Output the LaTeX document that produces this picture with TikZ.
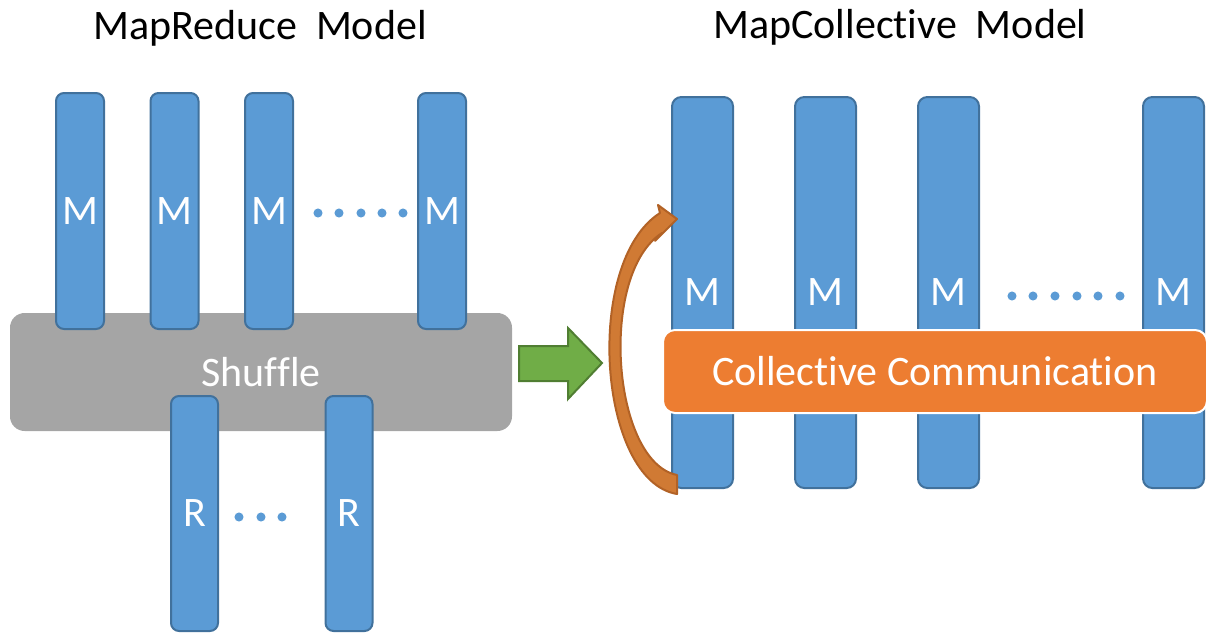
\documentclass[tikz,border=0pt]{standalone}
\usepackage{fontspec}
\setmainfont{Carlito}[RawFeature={-liga,-clig,-dlig}]
\newcommand{\nl}{\kern0pt{}}
\definecolor{barblue}{RGB}{91,155,213}
\definecolor{barline}{RGB}{65,113,156}
\definecolor{shgray}{RGB}{165,165,165}
\definecolor{ccorange}{RGB}{237,125,49}
\definecolor{arrfill}{RGB}{208,122,52}
\definecolor{arrline}{RGB}{178,98,38}
\definecolor{grfill}{RGB}{112,173,71}
\definecolor{grline}{RGB}{80,126,50}
\tikzset{
  big/.style={font=\fontsize{31.5}{36}\selectfont},
  bar/.style={draw=barline, line width=1.5pt, fill=barblue, rounded corners=6pt,
     inner sep=0pt, text=white, big},
  dot/.style={circle, fill=barblue, inner sep=0pt, minimum size=6.8pt},
}
\begin{document}
\begin{tikzpicture}[x=0.75pt, y=-0.75pt]
\useasboundingbox (0,0) rectangle (1209,632);
% titles
\node[big, anchor=base] (t1) at (260,39) {MapReduce\ \ Model};
\node[big, anchor=base] (t2) at (900,38) {MapCollective\ \ Model};
% shuffle
\node[fill=shgray, rounded corners=11pt, minimum width=502*0.75pt, minimum height=118*0.75pt,
      inner sep=0pt, text=white, big] (sh) at (261,372) {Shuf\nl f\nl le};
% left map bars
\foreach \n/\x in {1/80,2/174.5,3/269,4/442}
  \node[bar, minimum width=48*0.75pt, minimum height=236*0.75pt] (lm\n) at (\x,211) {M};
\foreach \n/\x in {1/318,2/339,3/361,4/382,5/403}
  \node[dot] (ld\n) at (\x,213) {};
% reduce bars
\foreach \n/\x in {1/194.5,2/349}
  \node[bar, minimum width=47*0.75pt, minimum height=235*0.75pt] (r\n) at (\x,513.5) {R};
\foreach \n/\x in {1/239,2/261,3/282}
  \node[dot] (rd\n) at (\x,517) {};
% green arrow
\filldraw[fill=grfill, draw=grline, line width=1.5pt]
  (519,346) -- (568,346) -- (568,328) -- (602,363) -- (568,399) -- (568,381) -- (519,381) -- cycle;
% right bars
\foreach \n/\x in {1/702.5,2/825.5,3/948.5,4/1173.5}
  \node[bar, rounded corners=7pt, minimum width=61*0.75pt, minimum height=391*0.75pt] (rm\n) at (\x,292.5) {M};
\foreach \n/\x in {1/1012,2/1033,3/1055,4/1077,5/1098,6/1120}
  \node[dot] (rdd\n) at (\x,296) {};
% collective communication
\node[fill=ccorange, draw=white, line width=1.5pt, rounded corners=9pt,
      minimum width=544*0.75pt, minimum height=83*0.75pt, inner sep=0pt, text=white, big]
      (cc) at (935,371.5) {Collect\nl ive Communicat\nl ion};
% curved arrow
\filldraw[fill=arrfill, draw=arrline, line width=1.5pt, line join=round]
  (677,494) .. controls (598,481) and (583,262) .. (660,213)
  -- (658,205) -- (677,219) -- (655,241) -- (662,233)
  .. controls (598,274) and (612,462) .. (677,475) -- cycle;
\end{tikzpicture}
\end{document}
